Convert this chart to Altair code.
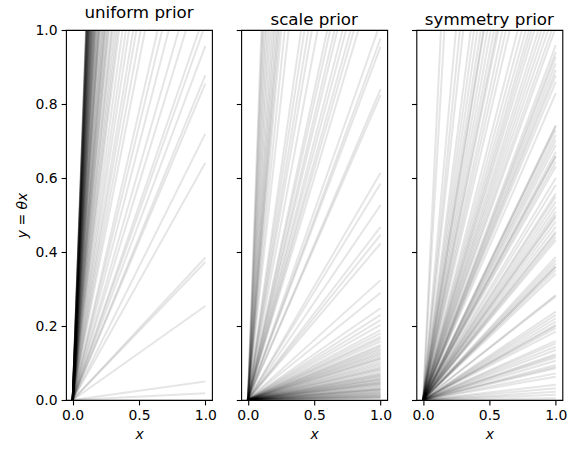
import altair as alt
import pandas as pd

titles = ["uniform prior", "scale prior", "symmetry prior"]
x_ticks = [0.0, 0.5, 1.0]
y_ticks = [0.0, 0.2, 0.4, 0.6, 0.8, 1.0]

uniform_slopes = [
    0.018, 0.05, 0.254, 0.373, 0.385, 0.641, 0.72, 0.856, 0.878, 0.957,
    1.015, 1.05, 1.17, 1.25, 1.38, 1.48, 1.56, 1.83, 1.95, 2.08, 2.19, 2.35,
    2.49, 2.66, 2.85, 2.95,
    3.07, 3.2, 3.35, 3.41, 3.6, 3.72, 3.8, 3.9, 4.05, 4.13, 4.2, 4.3, 4.46,
    4.52, 4.7, 4.85, 4.98, 5.05, 5.1, 5.22, 5.3, 5.47, 5.6, 5.68, 5.81, 5.95,
    6.02, 6.1, 6.17, 6.3, 6.38, 6.5, 6.66, 6.71, 6.85, 6.9, 6.97, 7.05, 7.18,
    7.26, 7.4, 7.52, 7.63, 7.7, 7.84, 7.9, 7.95, 8.03, 8.12, 8.25, 8.37, 8.44,
    8.5, 8.58, 8.66, 8.79, 8.88, 8.97, 9.06, 9.15, 9.24, 9.33, 9.41, 9.5,
    9.55, 9.62, 9.71, 9.8, 9.88, 9.96,
]

scale_slopes = [
    0.004, 0.006, 0.0075, 0.009, 0.011, 0.012, 0.014, 0.016, 0.018, 0.02,
    0.022, 0.025, 0.027, 0.029, 0.03, 0.032, 0.035, 0.038, 0.041, 0.043,
    0.045, 0.047, 0.049, 0.052, 0.055, 0.057, 0.059, 0.063, 0.065, 0.068,
    0.07, 0.074, 0.079, 0.083, 0.086, 0.09, 0.095, 0.099,
    0.104, 0.11, 0.113, 0.117, 0.122, 0.126, 0.13, 0.135, 0.14, 0.145, 0.149,
    0.158, 0.165, 0.171, 0.18, 0.189, 0.203, 0.216, 0.23, 0.248, 0.29, 0.324,
    0.423, 0.446, 0.468, 0.527, 0.585, 0.614, 0.824, 0.84, 0.955, 0.977,
    1.02, 1.2, 1.25, 1.29, 1.35, 1.4, 1.48, 1.53, 1.61, 1.67, 1.9, 2.07, 2.19,
    2.34, 2.49, 3.25, 3.6, 3.97, 4.2, 4.4, 4.6, 4.9, 5.2, 5.6,
    6.1, 6.6, 7.2, 7.8, 8.5, 9.1, 9.8,
]

symmetry_slopes = [
    0.005, 0.014, 0.022, 0.032, 0.041, 0.063, 0.072, 0.086, 0.09, 0.095,
    0.106, 0.115, 0.12, 0.124, 0.135, 0.144, 0.153, 0.16, 0.185, 0.194, 0.2,
    0.203, 0.212, 0.221, 0.23, 0.239, 0.28, 0.284, 0.341, 0.351, 0.36, 0.36,
    0.369, 0.378, 0.387, 0.432, 0.441, 0.45, 0.455, 0.468, 0.482, 0.495, 0.5,
    0.509, 0.522, 0.536, 0.55, 0.559, 0.581, 0.6, 0.631, 0.644, 0.658, 0.66,
    0.671, 0.689, 0.703, 0.716, 0.73, 0.74, 0.743, 0.829, 0.86, 0.878, 0.892,
    0.91, 0.928, 0.941, 0.959,
    1.007, 1.03, 1.06, 1.09, 1.12, 1.15, 1.19, 1.22, 1.25, 1.29, 1.34, 1.4,
    1.53, 1.6, 1.67, 1.76, 1.8, 1.87, 1.96, 2.06, 2.17, 2.2, 2.3, 2.44, 2.6,
    2.78, 3.3, 3.6, 4.03, 6.2, 7.4,
]

FONT = "DejaVu Sans"


def make_df(slopes):
    rows = []
    for i, s in enumerate(slopes):
        rows.append({"id": i, "x": 0.0, "y": 0.0})
        rows.append({"id": i, "x": 1.0, "y": s})
    return pd.DataFrame(rows)


def panel(slopes, title, first):
    common = dict(
        labelFont=FONT, labelFontSize=13.9, labelColor="black", labelPadding=4.0,
        tickSize=4.9, tickWidth=1.1, tickColor="black", domain=False, grid=False,
        labelFlush=False, titleFont=FONT, titleFontSize=13.9, titleFontWeight="normal",
        titleColor="black", titleFontStyle="italic",
    )
    xaxis = alt.Axis(values=x_ticks, format=".1f", title="x", titlePadding=5.0, **common)
    if first:
        yaxis = alt.Axis(values=y_ticks, format=".1f", title="y = θx", titlePadding=6.0, **common)
    else:
        yaxis = alt.Axis(values=y_ticks, format=".1f", title="", labels=False, **common)
    return (
        alt.Chart(make_df(slopes))
        .mark_line(clip=True, color="black", opacity=0.1, strokeWidth=2.0)
        .encode(
            x=alt.X("x:Q", scale=alt.Scale(domain=[-0.05, 1.05], nice=False, zero=False), axis=xaxis),
            y=alt.Y("y:Q", scale=alt.Scale(domain=[0, 1], nice=False, zero=False), axis=yaxis),
            detail="id:N",
        )
        .properties(
            width=146,
            height=370,
            title=alt.TitleParams(
                title, font=FONT, fontSize=16.7, fontWeight="normal", color="black",
                offset=1, anchor="middle",
            ),
        )
    )


chart = (
    alt.hconcat(
        panel(uniform_slopes, titles[0], True),
        panel(scale_slopes, titles[1], False),
        panel(symmetry_slopes, titles[2], False),
        spacing=29.2,
        bounds="flush",
    )
    .properties(padding={"left": 14, "top": 4, "right": 5, "bottom": 5}, background="white")
    .configure_view(stroke="black", strokeWidth=1.1)
)

chart.save("out.html", embed_options={"renderer": "svg", "actions": False})
